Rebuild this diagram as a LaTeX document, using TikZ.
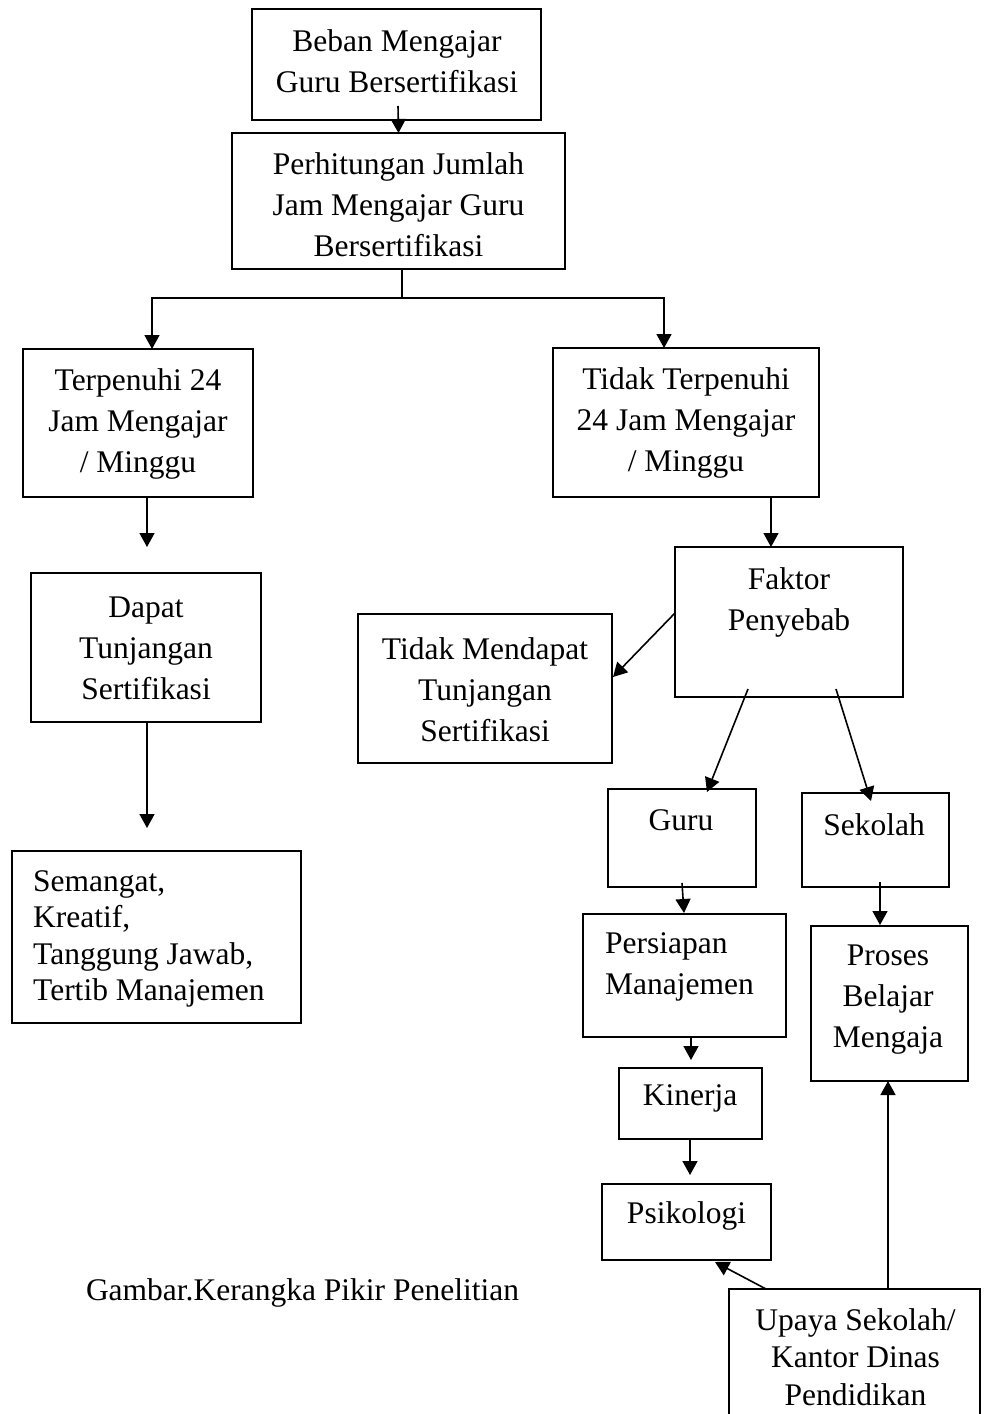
\documentclass[tikz,border=0pt]{standalone}
\usepackage{fontspec}
\setmainfont{Liberation Serif}
\usetikzlibrary{arrows.meta,calc}
\begin{document}
\begin{tikzpicture}[x=1pt,y=-1pt,
  box/.style={draw, line width=1.6pt, inner sep=0pt, outer sep=0pt},
  txt/.style={inner sep=0pt, align=center, font=\fontsize{31.5}{41}\selectfont},
  txtl/.style={inner sep=0pt, align=left, anchor=west},
  arr/.style={line width=1.6pt, -{Triangle[width=15pt,length=14pt]}},
  ln/.style={line width=1.6pt}]
\useasboundingbox (0,0) rectangle (985,1414);
\clip (0,0) rectangle (985,1414);

% boxes
\node[box, minimum width=289, minimum height=111] (b1) at (396.5,64.5) {};
\node[box, minimum width=333, minimum height=136] (b2) at (398.5,201) {};
\node[box, minimum width=230, minimum height=148] (b3) at (138,423) {};
\node[box, minimum width=230, minimum height=149] (b4) at (146,647.5) {};
\node[box, minimum width=289, minimum height=172] (b5) at (156.5,937) {};
\node[box, minimum width=266, minimum height=149] (b6) at (686,422.5) {};
\node[box, minimum width=228, minimum height=150] (b7) at (789,622) {};
\node[box, minimum width=254, minimum height=149] (b8) at (485,688.5) {};
\node[box, minimum width=148, minimum height=98] (b9) at (682,838) {};
\node[box, minimum width=147, minimum height=94] (b10) at (875.5,840) {};
\node[box, minimum width=203, minimum height=123] (b11) at (684.5,975.5) {};
\node[box, minimum width=157, minimum height=155] (b12) at (889.5,1003.5) {};
\node[box, minimum width=143, minimum height=71] (b13) at (690.5,1103.5) {};
\node[box, minimum width=169, minimum height=76] (b14) at (686.5,1222) {};
\node[box, minimum width=251, minimum height=151] (b15) at (854.5,1364.5) {};

% texts
\node[txt] (t1) at (397,61) {Beban Mengajar\\Guru Bersertifikasi};
\node[txt] (t2) at (398.5,205) {Perhitungan Jumlah\\Jam Mengajar Guru\\Bersertifikasi};
\node[txt] (t3) at (138,424) {Terpenuhi 24\\Jam Mengajar\\/ Minggu};
\node[txt] (t4) at (146,648) {Dapat\\Tunjangan\\Sertifikasi};
\node[txt, txtl, font=\fontsize{31.5}{36.3}\selectfont] (t5) at (33,939) {Semangat,\\Kreatif,\\Tanggung Jawab,\\Tertib Manajemen};
\node[txt] (t6) at (686,423) {Tidak Terpenuhi\\24 Jam Mengajar\\/ Minggu};
\node[txt] (t7) at (789,602) {Faktor\\Penyebab};
\node[txt] (t8) at (485,690) {Tidak Mendapat\\Tunjangan\\Sertifikasi};
\node[txt] (t9) at (681,820) {Guru};
\node[txt] (t10) at (874,825) {Sekolah};
\node[txt, txtl] (t11) at (605,967) {Persiapan\\Manajemen};
\node[txt] (t12) at (888,1000) {Proses\\Belajar\\Mengaja};
\node[txt] (t13) at (690,1098) {Kinerja};
\node[txt] (t14) at (686.5,1216) {Psikologi};
\node[txt, font=\fontsize{31.5}{37.5}\selectfont] (t15) at (855.5,1357) {Upaya Sekolah/\\Kantor Dinas\\Pendidikan};
\node[txt] (cap) at (302.5,1292.6) {Gambar.Kerangka Pikir Penelitian};

% connectors
\draw[arr] ($(b1.south)+(1.5,-14)$) -- (b2.north);
\coordinate (j) at ($(b2.south)+(3.5,29)$);
\draw[ln] ($(b2.south)+(3.5,0)$) -- (j);
\draw[arr] (j) -| ($(b3.north)+(14,0)$);
\draw[arr] (j) -| ($(b6.north)+(-22,0)$);
\draw[arr] ($(b3.south)+(9,0)$) -- ($(b4.north)+(1,-26)$);
\draw[arr] ($(b4.south)+(1,0)$) -- ($(b5.north)+(-9.5,-23)$);
\draw[arr] ($(b6.south)+(85,0)$) -- ($(b7.north)+(-18,0)$);
\draw[arr] ($(b7.west)+(0,-9)$) -- ($(b8.east)+(1,-11.5)$);
\draw[arr] ($(b7.south)+(-41,-8)$) -- ($(b9.north)+(25,3)$);
\draw[arr] ($(b7.south)+(47,-8)$) -- ($(b10.north)+(-4.5,8)$);
\draw[arr] ($(b9.south)+(0,-4)$) -- ($(b11.north)+(-0.5,-1)$);
\draw[arr] ($(b10.south)+(4.5,-5)$) -- ($(b12.north)+(-9.5,-1)$);
\draw[arr] ($(b11.south)+(6.5,0)$) -- ($(b13.north)+(0.5,-8)$);
\draw[arr] ($(b13.south)+(-0.5,0)$) -- ($(b14.north)+(3.5,-9)$);
\draw[arr] ($(b15.north)+(-88.5,0)$) -- ($(b14.south)+(28.5,2)$);
\draw[arr] ($(b15.north)+(33.5,0)$) -- ($(b12.south)+(-1.5,0)$);
\end{tikzpicture}
\end{document}
